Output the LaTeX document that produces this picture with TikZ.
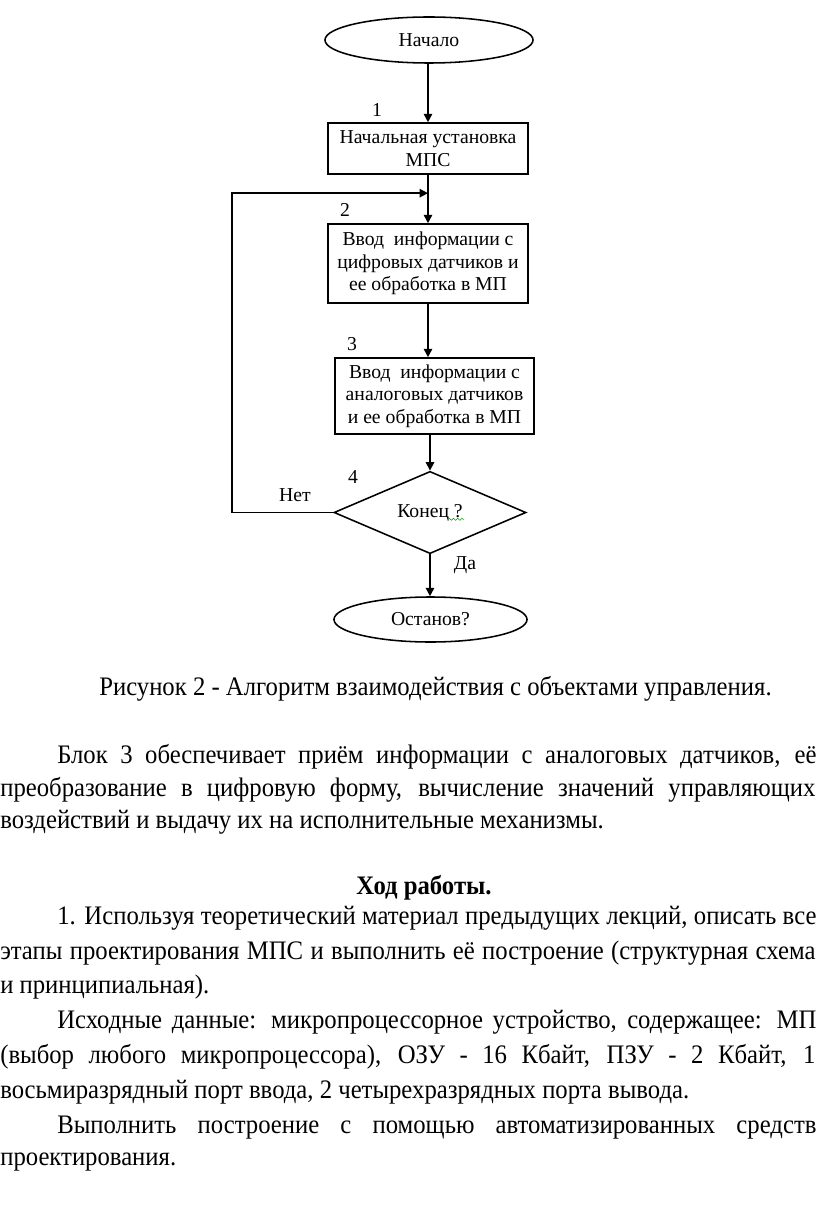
\documentclass[tikz,border=0pt]{standalone}
\usepackage{fontspec}
\setmainfont{Liberation Serif}
\newfontfamily\chartfont{Liberation Serif}
\newfontfamily\bodyfont[FakeStretch=0.925]{Liberation Serif}
\usepackage{tikz}
\usetikzlibrary{positioning,shapes.geometric,arrows.meta,decorations.pathmorphing,calc}

\begin{document}
\begin{tikzpicture}[x=0.025cm, y=-0.025cm,
  term/.style={draw, ellipse, line width=1.1pt, inner sep=0pt, font=\chartfont\fontsize{14}{16}\selectfont},
  blk/.style={draw, line width=1.1pt, minimum width=5cm, align=center, inner sep=0pt,
              font=\chartfont\fontsize{14}{16}\selectfont},
  dec/.style={draw, diamond, line width=1.1pt, inner sep=0pt, font=\chartfont\fontsize{14}{16}\selectfont},
  num/.style={font=\chartfont\fontsize{14}{16}\selectfont},
  arr/.style={-{Triangle[length=6pt, width=6pt]}, line width=1.1pt},
  txt/.style={anchor=west, inner sep=0pt, font=\bodyfont\fontsize{19}{22}\selectfont}
]
  \useasboundingbox (0,0) rectangle (816,1207);

  % flowchart
  \node[term, minimum width=5.2cm, minimum height=1.15cm] (start) at (429,40) {Начало};
  \node[blk, minimum height=1.275cm] (b1) at (428,148.5) {Начальная установка\\МПС};
  \node[blk, minimum height=1.975cm] (b2) at (428,263.5) {Ввод\ \ информации с\\цифровых датчиков и\\ее обработка в МП};
  \node[blk, minimum width=4.975cm, minimum height=1.9cm] (b3) at (434.5,396) {Ввод\ \ информации с\\аналоговых датчиков\\и ее обработка в МП};
  \node[dec, minimum width=4.8cm, minimum height=1.975cm] (cond) at (430,512.5) {Конец ?};
  \node[term, minimum width=4.825cm, minimum height=1.125cm] (stop) at (430.5,619.5) {Останов?};

  \node[num] (n1) at (377,110) {1};
  \node[num] (n2) at (345,210) {2};
  \node[num] (n3) at (352,344) {3};
  \node[num] (n4) at (353,477) {4};
  \node[num] (no) at (295,495) {Нет};
  \node[num] (yes) at (465,565) {Да};

  \coordinate (join) at ($(b1.south)!0.38!(b2.north)$);
  \draw[arr] (start.south -| b1.north) -- (b1.north);
  \draw[arr] (b1) -- (b2);
  \draw[arr] (b2.south) -- (b2.south |- b3.north);
  \draw[arr] (cond.north |- b3.south) -- (cond.north);
  \draw[arr] (cond.south) -- (stop.north -| cond.south);
  \draw[arr] (cond.west) -- ++(-101,0) |- (join);
  \draw[green!60!black, decorate, decoration={snake, amplitude=0.7pt, segment length=3pt}]
    ([xshift=0.45cm, yshift=-0.17cm]cond.center) -- ++(0.4cm,0);

  % text below the picture
  \node[txt, anchor=center] (cap) at (435.5,689) {Рисунок 2 - Алгоритм взаимодействия с объектами управления.};

  \node[txt] (p1) at (57,757) {\makebox[18.975cm][s]{Блок 3 обеспечивает приём информации с аналоговых датчиков, её}};
  \node[txt] (p2) at (0,790) {\makebox[20.375cm][s]{преобразование в цифровую форму, вычисление значений управляющих}};
  \node[txt] (p3) at (0,822) {воздействий и выдачу их на исполнительные механизмы.};

  \node[txt, anchor=center, font=\bodyfont\bfseries\fontsize{19}{22}\selectfont] (head) at (424,888) {Ход работы.};

  \node[txt] (q1) at (57,918) {\makebox[18.975cm][s]{1. Используя теоретический материал предыдущих лекций, описать все}};
  \node[txt] (q2) at (0,953) {\makebox[20.375cm][s]{этапы проектирования МПС и выполнить её построение (структурная схема}};
  \node[txt] (q3) at (0,987) {и принципиальная).};
  \node[txt] (q4) at (57,1022) {\makebox[18.975cm][s]{Исходные данные: микропроцессорное устройство, содержащее: МП}};
  \node[txt] (q5) at (0,1057) {\makebox[20.375cm][s]{(выбор любого микропроцессора), ОЗУ - 16 Кбайт, ПЗУ - 2 Кбайт, 1}};
  \node[txt] (q6) at (0,1092) {восьмиразрядный порт ввода, 2 четырехразрядных порта вывода.};
  \node[txt] (q7) at (57,1128) {\makebox[18.975cm][s]{Выполнить построение с помощью автоматизированных средств}};
  \node[txt] (q8) at (0,1162) {проектирования.};
\end{tikzpicture}
\end{document}
